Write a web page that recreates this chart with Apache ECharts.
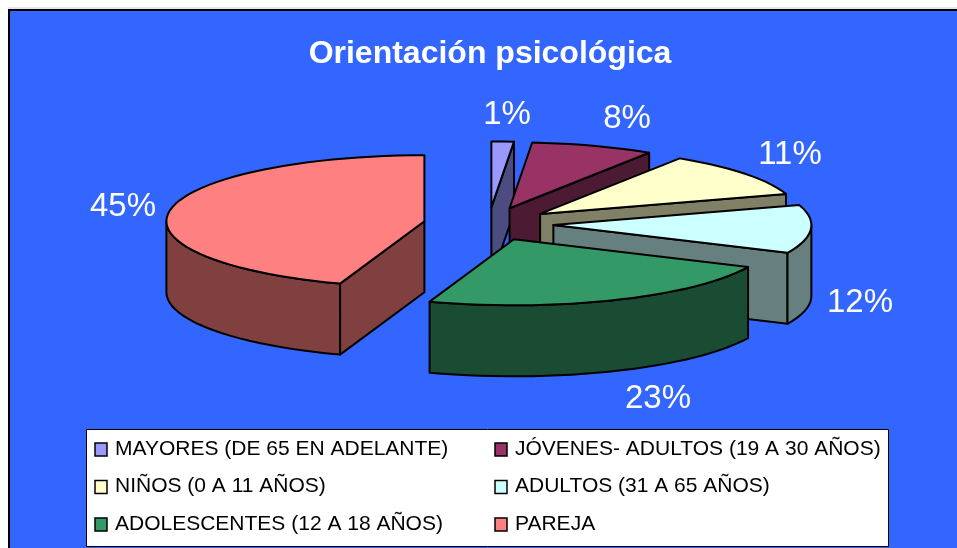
<!DOCTYPE html>
<html>
<head>
<meta charset="utf-8">
<style>
  html, body { margin: 0; padding: 0; background: #fff; }
  #chart { width: 957px; height: 548px; }
</style>
<script src="https://cdn.jsdelivr.net/npm/echarts@6/dist/echarts.min.js"></script>
</head>
<body>
<div id="chart"></div>
<script>
const categories = [
  "MAYORES (DE 65 EN ADELANTE)",
  "JÓVENES- ADULTOS (19 A 30 AÑOS)",
  "NIÑOS (0 A 11 AÑOS)",
  "ADULTOS (31 A 65 AÑOS)",
  "ADOLESCENTES (12 A 18 AÑOS)",
  "PAREJA",
]
const shares = [1.4, 7.7, 11, 11.8, 23.4, 44.7]
const topColors = ["#9999ff", "#993366", "#ffffcc", "#ccffff", "#339966", "#ff8080"]
const wallColors = ["#4c4c80", "#4c1a33", "#808066", "#668080", "#1a4c33", "#804040"]

// pie geometry, fake 3D: a squashed ellipse with exploded slices
const cx = 488.5
const cy = 224
const radiusX = 258
const radiusY = 66
const depth = 71
const explode = 65
const labelCenters = [[507, 115], [627, 119], [790, 155], [860, 303], [658, 399], [123, 207]]

const font = "'Liberation Sans', Arial, sans-serif"
const total = shares.reduce((a, b) => a + b, 0)
const rad = deg => deg * Math.PI / 180

const sliceAngles = shares.map((_, i) => {
  const before = shares.slice(0, i).reduce((a, b) => a + b, 0)
  return [before / total * 360, (before + shares[i]) / total * 360]
})

function arcPoints(c, from, to, dy) {
  const pts = []
  const steps = Math.max(1, Math.ceil((to - from) / 3))
  for (let s = 0; s <= steps; s++) {
    const t = rad(from + (to - from) * s / steps)
    pts.push([c[0] + radiusX * Math.sin(t), c[1] - radiusY * Math.cos(t) + dy])
  }
  return pts
}

function poly(points, fill) {
  return {
    type: "polygon",
    shape: {points},
    style: {fill, stroke: "#000", lineWidth: 2, lineJoin: "round"},
  }
}

function renderSlice(params) {
  const i = params.dataIndex
  const [t1, t2] = sliceAngles[i]
  const mid = rad((t1 + t2) / 2)
  const c = [cx + explode * Math.sin(mid), cy - explode * radiusY / radiusX * Math.cos(mid)]
  const children = []

  // cut faces, only the ones turned towards the viewer
  const cutFace = t => {
    const end = arcPoints(c, t, t, 0)[0]
    children.push(poly([c, end, [end[0], end[1] + depth], [c[0], c[1] + depth]], wallColors[i]))
  }
  if (t2 < 180) cutFace(t2)
  if (t1 > 180) cutFace(t1)

  // rim, front half only
  const from = Math.max(t1, 90)
  const to = Math.min(t2, 270)
  if (to > from) {
    const upper = arcPoints(c, from, to, 0)
    const lower = arcPoints(c, from, to, depth).reverse()
    children.push(poly(upper.concat(lower), wallColors[i]))
  }

  children.push(poly([c].concat(arcPoints(c, t1, t2, 0)), topColors[i]))
  return {type: "group", children}
}

function renderLabel(params) {
  const i = params.dataIndex
  return {
    type: "text",
    style: {
      text: Math.round(shares[i]) + "%",
      x: labelCenters[i][0],
      y: labelCenters[i][1],
      fill: "#fff",
      font: "33px " + font,
      align: "center",
      verticalAlign: "middle",
    },
  }
}

const legendItems = categories.flatMap((name, i) => {
  const col = i % 2
  const row = Math.floor(i / 2)
  const x = col ? 495 : 95
  const y = 449 + row * 37.5
  return [
    {
      type: "rect",
      shape: {x, y: y - 6, width: 12, height: 13},
      style: {fill: topColors[i], stroke: "#000", lineWidth: 1.5},
      z: 11,
    },
    {
      type: "text",
      style: {
        text: name,
        x: x + 20,
        y,
        fill: "#000",
        font: "21px " + font,
        verticalAlign: "middle",
      },
      z: 11,
    },
  ]
})

const chart = echarts.init(document.getElementById("chart"), null, {renderer: "canvas"})
chart.setOption({
  animation: false,
  backgroundColor: "#fff",
  title: {
    text: "Orientación psicológica",
    left: 485,
    top: 33,
    textAlign: "center",
    textStyle: {color: "#fff", fontFamily: font, fontWeight: "bold", fontSize: 32},
  },
  graphic: [
    {type: "line", shape: {x1: 8, y1: 8, x2: 957, y2: 8}, style: {stroke: "#ccc", lineWidth: 1}, z: -2},
    {
      type: "rect",
      shape: {x: 9, y: 10, width: 960, height: 560},
      style: {fill: "#3366ff", stroke: "#000", lineWidth: 2},
      z: -1,
    },
    {
      type: "rect",
      shape: {x: 86.5, y: 429.5, width: 802, height: 117},
      style: {fill: "#fff", stroke: "#000", lineWidth: 1},
      z: 10,
    },
    ...legendItems,
  ],
  series: [
    {type: "custom", coordinateSystem: "none", renderItem: renderSlice, data: shares, silent: true},
    {type: "custom", coordinateSystem: "none", renderItem: renderLabel, data: shares, silent: true, z: 5},
  ],
})
</script>
</body>
</html>
